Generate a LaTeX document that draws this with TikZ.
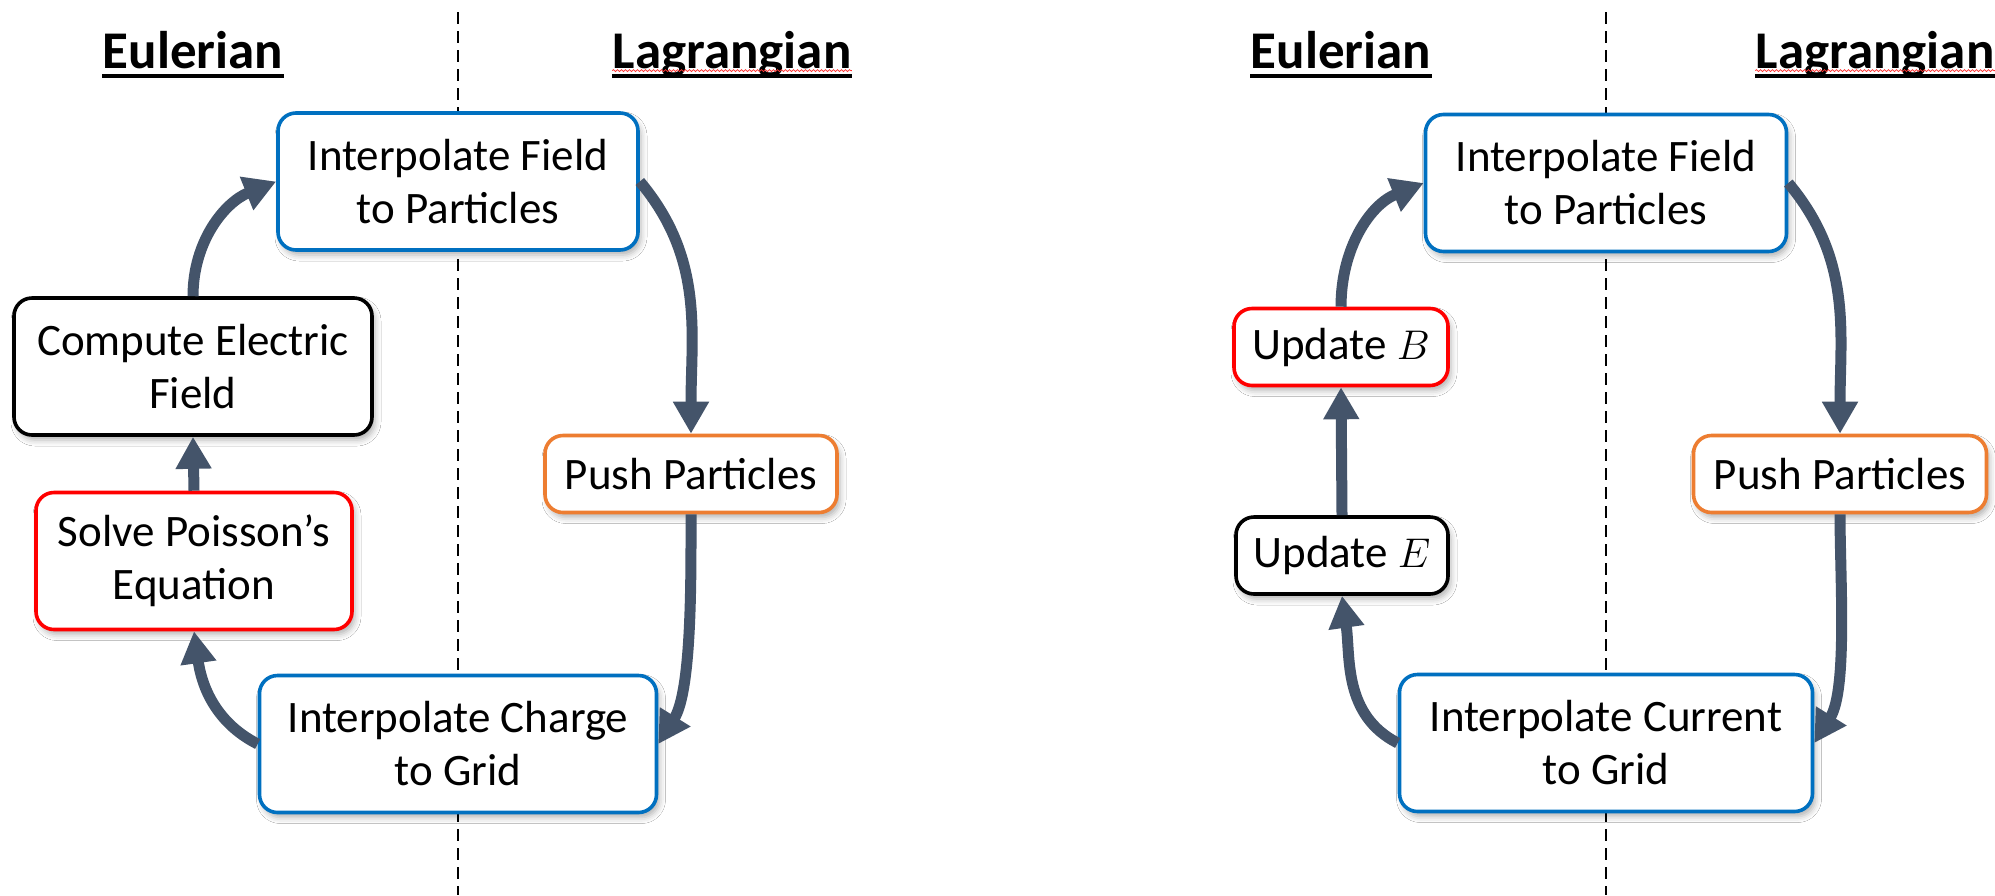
\documentclass[tikz,border=0pt]{standalone}
\usepackage{fontspec}
\setmainfont{Carlito}
\usetikzlibrary{arrows.meta,shadows.blur,decorations.pathmorphing}
\definecolor{flowgray}{HTML}{44546A}
\definecolor{boxblue}{HTML}{0070C0}
\definecolor{boxred}{HTML}{FF0000}
\definecolor{boxorange}{HTML}{ED7D31}

\begin{document}
\begin{tikzpicture}[x=0.5pt,y=-0.5pt,
  stage/.style={draw, line width=1.8pt, rounded corners=9pt, fill=white,
    align=center, inner sep=0pt, font=\fontsize{22.5}{26.5}\selectfont,
    blur shadow={shadow xshift=1.5pt, shadow yshift=-2.5pt,
      shadow blur radius=3pt, shadow opacity=30}},
  tall/.style={minimum height=68.5pt},
  short/.style={minimum height=38.5pt},
  flow/.style={draw=flowgray, line width=5.5pt,
    -{Triangle[length=16pt,width=17pt]}},
  divider/.style={line width=1pt, dash pattern=on 6pt off 3.5pt},
  header/.style={font=\bfseries\fontsize{26.5}{30}\selectfont,
    anchor=base, inner sep=0pt},
  uline/.style={line width=2pt},
  squiggle/.style={red!80, line width=0.4pt, decorate,
    decoration={snake, amplitude=0.45pt, segment length=2pt}},
]
\useasboundingbox (0,0) rectangle (1995,895);
\fill[white] (0,0) rectangle (1995,895);

% column dividers
\draw[divider] (457.6,12) -- (457.6,895);
\draw[divider] (1606,12) -- (1606,895);

% column headers
\foreach \nm/\px/\txt in {eu1/193/Eulerian, la1/732/Lagrangian,
                          eu2/1341/Eulerian, la2/1875/Lagrangian} {
  \node[header] (\nm) at (\px,68) {\txt};
  \draw[uline] ([yshift=-4pt]\nm.base west) -- ([yshift=-4pt]\nm.base east);
}
\draw[squiggle] ([yshift=-1.3pt]la1.base west) -- ([yshift=-1.3pt]la1.base east);
\draw[squiggle] ([yshift=-1.3pt]la2.base west) -- ([yshift=-1.3pt]la2.base east);

% electrostatic cycle
\node[stage, draw=boxblue, tall, minimum width=180pt] (if) at (458,181.5)
  {Interpolate Field\\to Particles};
\node[stage, draw=black, tall, minimum width=179pt] (ce) at (193,366.5)
  {Compute Electric\\Field};
\node[stage, draw=boxred, tall, minimum width=158pt] (sp) at (194,561)
  {Solve Poisson’s\\Equation};
\node[stage, draw=boxorange, short, minimum width=146pt] (pp) at (691,474)
  {Push Particles};
\node[stage, draw=boxblue, tall, minimum width=198.5pt] (ic) at (458,744)
  {Interpolate Charge\\to Grid};

\draw[flow] (ce.north) to[out=90, in=202] (if.west);
\draw[flow] (if.east) to[out=-50, in=90] (pp.north);
\draw[flow] (pp.south) to[out=-90, in=58, looseness=0.7] (ic.east);
\draw[flow] (ic.west) to[out=153, in=-82] (sp.south);
\draw[flow] (sp.north) -- (ce.south);

% electromagnetic cycle
\node[stage, draw=boxblue, tall, minimum width=180.5pt] (if2) at (1606,183)
  {Interpolate Field\\to Particles};
\node[stage, draw=boxred, short, minimum width=107pt] (ub) at (1341,347)
  {Update $B$};
\node[stage, draw=black, short, minimum width=106pt] (ue) at (1342,555.5)
  {Update $E$};
\node[stage, draw=boxorange, short, minimum width=146.5pt] (pp2) at (1840,474)
  {Push Particles};
\node[stage, draw=boxblue, tall, minimum width=206.5pt] (ic2) at (1606,743)
  {Interpolate Current\\to Grid};

\draw[flow] (ub.north) to[out=90, in=202] (if2.west);
\draw[flow] (if2.east) to[out=-50, in=90] (pp2.north);
\draw[flow] (pp2.south) to[out=-90, in=58, looseness=0.7] (ic2.east);
\draw[flow] (ic2.west) to[out=153, in=-82] (ue.south);
\draw[flow] (ue.north) -- (ub.south);
\end{tikzpicture}
\end{document}
